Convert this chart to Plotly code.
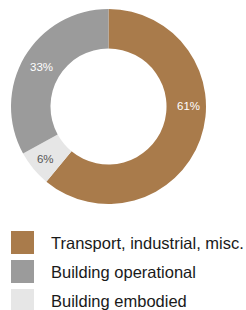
import plotly.graph_objects as go

# Data
labels = ["Transport, industrial, misc.", "Building embodied", "Building operational"]
values = [61, 6, 33]
colors = ["#A97B4B", "#E6E6E6", "#9B9B9B"]
text_colors = ["#FFFFFF", "#555555", "#FFFFFF"]

legend_labels = ["Transport, industrial, misc.", "Building operational", "Building embodied"]
legend_colors = ["#A97B4B", "#9B9B9B", "#E6E6E6"]

W, H = 246, 310
FONT = "Liberation Sans, Arial, sans-serif"
total = sum(values)
pct = [f"{round(100*v/total)}%" for v in values]
# the first slice's label is placed at the right side of the ring (as in the reference)
slice_text = [""] + pct[1:]

fig = go.Figure(go.Pie(
    labels=labels, values=values, hole=0.595, sort=False, direction="clockwise",
    rotation=0, marker=dict(colors=colors, line=dict(width=0)),
    text=slice_text, textinfo="text", textposition="inside",
    insidetextfont=dict(color=text_colors, size=11.5, family=FONT),
    insidetextorientation="horizontal",
    domain=dict(x=[11/W, 206/W], y=[1-204/H, 1-9/H]),
    showlegend=False, hoverinfo="skip",
))

shapes, annotations = [], []
annotations.append(dict(xref="paper", yref="paper", x=188/W, y=1-106/H, text=pct[0],
                        showarrow=False, xanchor="center", yanchor="middle",
                        font=dict(size=11.5, color=text_colors[0], family=FONT)))
y0 = 231
step = 29
for i, (lab, col) in enumerate(zip(legend_labels, legend_colors)):
    top = y0 + i*step
    shapes.append(dict(type="rect", xref="paper", yref="paper",
                       x0=11/W, x1=34/W, y0=1-(top+23)/H, y1=1-top/H,
                       fillcolor=col, line=dict(width=0)))
    annotations.append(dict(xref="paper", yref="paper", x=49/W, y=1-(top+11.5)/H,
                            text=lab, showarrow=False, xanchor="left", yanchor="middle",
                            font=dict(size=16.5, color="#1A1A1A", family=FONT)))

fig.update_layout(width=W, height=H, margin=dict(l=0, r=0, t=0, b=0),
                  paper_bgcolor="white", plot_bgcolor="white",
                  shapes=shapes, annotations=annotations)
fig.write_html("out.html", config={"displayModeBar": False},
               post_script="document.body.style.margin='0';document.body.style.overflow='hidden';")
